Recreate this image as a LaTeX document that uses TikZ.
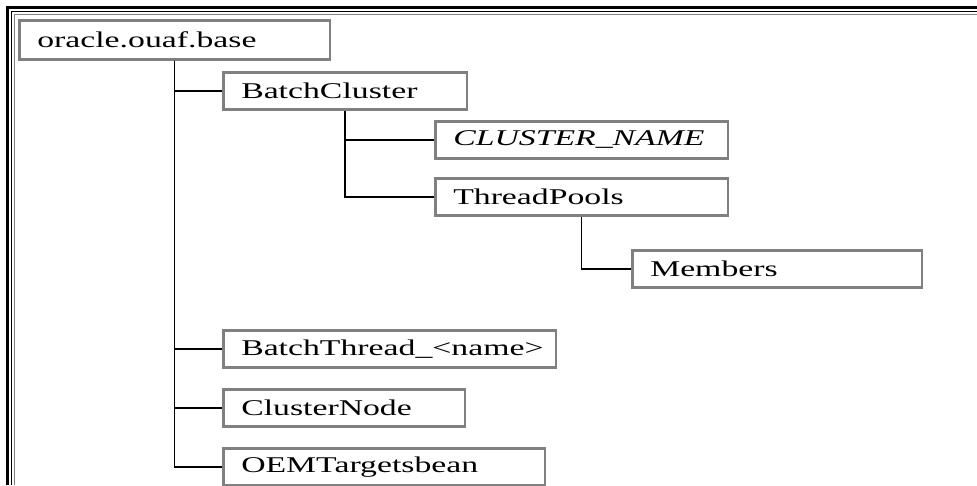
\documentclass[tikz,border=0pt]{standalone}
\usepackage{fontspec}
\newfontfamily\boxfont{Liberation Serif}
\usetikzlibrary{positioning}
\definecolor{boxgray}{RGB}{128,128,128}
\newcommand{\widetext}[1]{\scalebox{1.5}[1]{#1}}

\begin{document}
\begin{tikzpicture}[x=1pt, y=-1pt,
		pkgbox/.style={draw=boxgray, line width=2.5pt, anchor=north west,
			inner xsep=18pt, inner ysep=0pt, minimum height=37pt, align=left,
			font=\boxfont\fontsize{22.5}{27}\selectfont},
		link/.style={line width=1.8pt}
	]
		
		\useasboundingbox (0,0) rectangle (977,485);
		
		%frame
		\draw[line width=3pt] (7.5,485) -- (7.5,7.5) -- (977,7.5);
		\draw[line width=1pt] (11.5,485) -- (11.5,11.5) -- (977,11.5);
		\draw[boxgray, line width=1.5pt] (14.5,485) -- (14.5,14.5) -- (977,14.5);
		
		%boxes
		\node[pkgbox, text width=274.5pt, minimum height=39pt] (base) at (18,19) {\widetext{oracle.ouaf.base}};
		\node[pkgbox, text width=207.5pt] (bcl) at (222,71) {\widetext{BatchCluster}};
		\node[pkgbox, text width=256.5pt] (cname) at (434,120) {\widetext{\itshape CLUSTER\_NAME}};
		\node[pkgbox, text width=256.5pt] (tpools) at (434,177) {\widetext{ThreadPools}};
		\node[pkgbox, text width=253.5pt] (members) at (631,249) {\widetext{Members}};
		\node[pkgbox, text width=296.5pt] (bthread) at (222,329) {\widetext{BatchThread\_<name>}};
		\node[pkgbox, text width=205.5pt] (cnode) at (222,388) {\widetext{ClusterNode}};
		\node[pkgbox, text width=285.5pt] (oem) at (222,447) {\widetext{OEMTargetsbean}};
		
		%links
		\draw[link] (base.south) |- (bcl.west);
		\draw[link] (base.south) |- (bthread.west);
		\draw[link] (base.south) |- (cnode.west);
		\draw[link] (base.south) |- (oem.west);
		\draw[link] (bcl.south) |- (cname.west);
		\draw[link] (bcl.south) |- (tpools.west);
		\draw[link] (tpools.south) |- (members.west);
	\end{tikzpicture}
\end{document}
